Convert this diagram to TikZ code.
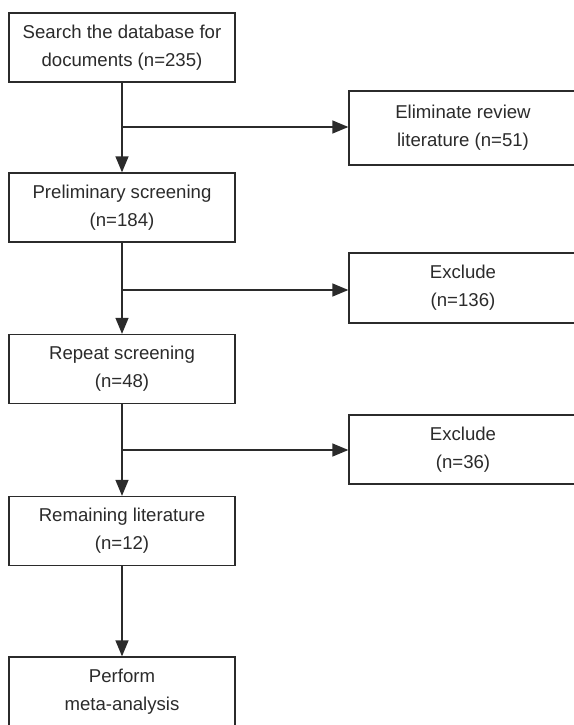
\documentclass[tikz,border=0pt]{standalone}
\usepackage{fontspec}
\setmainfont{Liberation Sans}
\usetikzlibrary{arrows.meta}
\definecolor{inkgray}{HTML}{2B2B2B}
\begin{document}
\begin{tikzpicture}[
        x=1pt, y=-1pt,
        stepbox/.style={rectangle, draw=inkgray, line width=1.3pt, fill=white, text=inkgray, align=center, inner sep=0pt, minimum width=226pt, minimum height=69pt, font=\fontsize{18.6}{28}\selectfont},
        sidebox/.style={stepbox, minimum width=228pt},
        arrow/.style={-{Triangle[length=16pt,width=13pt]}, draw=inkgray, line width=1.3pt},
        branch/.style={draw=inkgray, line width=1.3pt}
    ]
        \useasboundingbox (0,0) rectangle (573,725);

        % Main column of steps
        \node[stepbox] (search) at (122,47.5) {Search the database for\\documents (n=235)};
        \node[stepbox] (prelim) at (122,207.5) {Preliminary screening\\(n=184)};
        \node[stepbox] (repeat) at (122,369) {Repeat screening\\(n=48)};
        \node[stepbox] (remain) at (122,531) {Remaining literature\\(n=12)};
        \node[stepbox] (meta) at (122,691.5) {Perform\\meta-analysis};

        % Side boxes on the right
        \node[sidebox, minimum height=74pt] (elim) at (463,128) {Eliminate review\\literature (n=51)};
        \node[sidebox, minimum height=70pt] (excl1) at (463,288) {Exclude\\(n=136)};
        \node[sidebox] (excl2) at (463,449.5) {Exclude\\(n=36)};

        % Branch points on the main line
        \coordinate (b1) at (122,127);
        \coordinate (b2) at (122,290);
        \coordinate (b3) at (122,450);

        % Arrows down the column
        \draw[arrow] (search.south) -- (prelim.north);
        \draw[arrow] (prelim.south) -- (repeat.north);
        \draw[arrow] (repeat.south) -- (remain.north);
        \draw[arrow] (remain.south) -- (meta.north);

        % Arrows to the side boxes
        \draw[arrow] (b1) -- (b1 -| elim.west);
        \draw[arrow] (b2) -- (b2 -| excl1.west);
        \draw[arrow] (b3) -- (b3 -| excl2.west);

    \end{tikzpicture}
\end{document}
